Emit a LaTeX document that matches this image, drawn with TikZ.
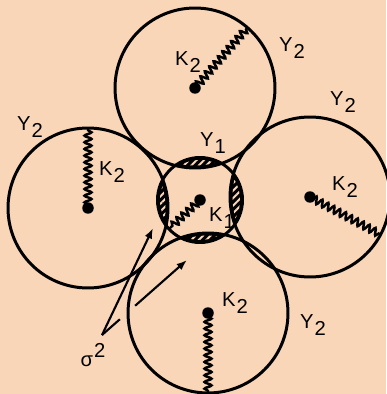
\documentclass[tikz,border=0pt]{standalone}
\usepackage{fontspec}
\setmainfont{Liberation Sans}
\usetikzlibrary{calc, decorations.pathmorphing, patterns.meta, arrows.meta}
\definecolor{paper}{RGB}{250,214,184}
\newcommand{\lblsub}[2]{#1\kern0.5pt\raisebox{-0.7ex}{#2}}
\newcommand{\lblsup}[2]{#1\kern0.5pt\raisebox{0.9ex}{#2}}

\begin{document}
\begin{tikzpicture}[
    x=0.02cm, y=-0.02cm,
    ball/.style={draw, circle, line width=1.7pt, inner sep=0pt, outer sep=0pt},
    outerball/.style={ball, minimum size=3.2cm},
    innerball/.style={ball, minimum size=1.7cm},
    spring/.style={line width=1.4pt, decorate,
        decoration={snake, segment length=3.8pt, amplitude=2pt, pre length=2pt, post length=1pt}},
    core/.style={circle, fill, inner sep=0pt, minimum size=0.23cm},
    lbl/.style={font=\fontsize{11.5}{13}\selectfont, inner sep=1pt},
    hatch/.style={pattern={Lines[angle=45, distance=3pt, line width=1.1pt]}, pattern color=paper},
    pointer/.style={line width=1.2pt},
    >={Latex[length=6pt, width=4.5pt]}
]
\fill[paper] (0,0) rectangle (386,394);
\useasboundingbox (0,0) rectangle (386,394);

\node (mid)    [innerball] at (200,200) {};
\node (top)    [outerball] at (195,88)  {};
\node (left)   [outerball] at (88,208)  {};
\node (right)  [outerball] at (310,197) {};
\node (bottom) [outerball] at (208,313) {};

% overlap lenses
\foreach \o in {top, left, right, bottom} {
  \begin{scope}
    \clip (mid.center) circle (0.85cm);
    \fill (\o.center) circle (1.6cm);
    \clip (mid.center) circle (0.8cm);
    \fill[hatch] (\o.center) circle (1.55cm);
  \end{scope}
}

\node (midcore)    [core] at (mid.center)    {};
\node (topcore)    [core] at (top.center)    {};
\node (leftcore)   [core] at (left.center)   {};
\node (rightcore)  [core] at (right.center)  {};
\node (bottomcore) [core] at (bottom.center) {};

\draw[spring] (topcore.center)    -- (top.49);
\draw[spring] (leftcore.center)   -- (left.90);
\draw[spring] (rightcore.center)  -- (right.-28);
\draw[spring] (bottomcore.center) -- (bottom.-90);
\draw[spring] (midcore.center)    -- (mid.-137);

\node (ktop)    [lbl] at (188,62)  {\lblsub{K}{2}};
\node (ytop)    [lbl] at (292,48)  {\lblsub{Y}{2}};
\node (yright)  [lbl] at (343,102) {\lblsub{Y}{2}};
\node (kright)  [lbl] at (345,187) {\lblsub{K}{2}};
\node (yleft)   [lbl] at (30,127)  {\lblsub{Y}{2}};
\node (kleft)   [lbl] at (112,172) {\lblsub{K}{2}};
\node (ymid)    [lbl] at (213,143) {\lblsub{Y}{1}};
\node (kmid)    [lbl] at (222,218) {\lblsub{K}{1}};
\node (kbottom) [lbl] at (235,303) {\lblsub{K}{2}};
\node (ybottom) [lbl] at (313,325) {\lblsub{Y}{2}};
\node (sig)     [lbl] at (93,355)  {\lblsup{σ}{2}};

\coordinate (vtx)   at (102,335);
\coordinate (lensL) at (153,228);
\coordinate (lensB) at (187,260);

\draw[pointer, ->] (vtx) -- (lensL);
\draw[pointer] (vtx) -- ($(vtx)!0.21!(lensB)$);
\draw[pointer, ->] ($(vtx)!0.39!(lensB)$) -- (lensB);

\end{tikzpicture}
\end{document}
